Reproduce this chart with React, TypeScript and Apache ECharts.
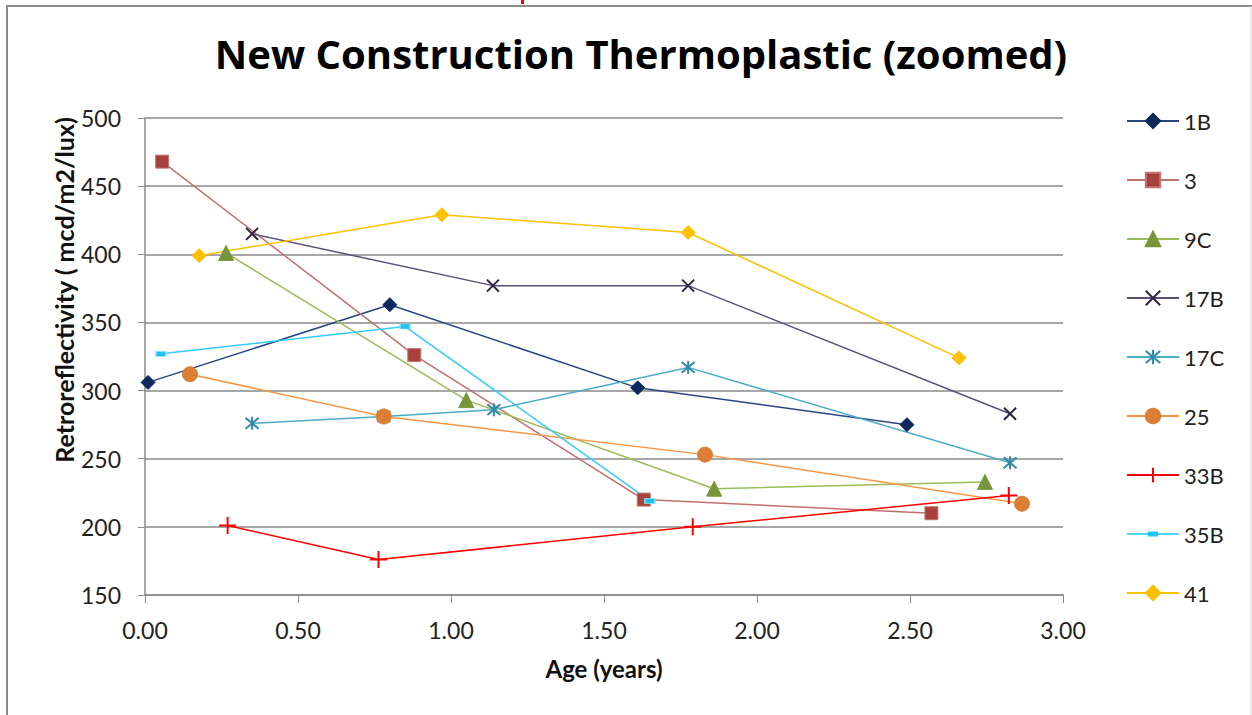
import React, { useEffect, useRef } from "react";
import * as echarts from "echarts";

// Age (years) / retroreflectivity (mcd/m2/lux) readings for each site
const s1B: [number, number][] = [[0.01, 306], [0.80, 363], [1.61, 302], [2.49, 275]];
const s3: [number, number][] = [[0.056, 468], [0.88, 326], [1.63, 220], [2.57, 210]];
const s9C: [number, number][] = [[0.265, 401], [1.05, 293], [1.86, 228], [2.745, 233]];
const s17B: [number, number][] = [[0.35, 415], [1.137, 377], [1.775, 377], [2.827, 283]];
const s17C: [number, number][] = [[0.35, 276], [0.78, 281], [1.14, 286], [1.775, 317], [2.827, 247]];
const s25: [number, number][] = [[0.147, 312], [0.78, 281], [1.83, 253], [2.866, 217]];
const s33B: [number, number][] = [[0.27, 201], [0.763, 176], [1.79, 200], [2.823, 223]];
const s35B: [number, number][] = [[0.052, 327], [0.85, 347], [1.65, 219]];
const s41: [number, number][] = [[0.177, 399], [0.97, 429], [1.775, 416], [2.66, 324]];

const FONT = "Lato, 'Open Sans', sans-serif";
const TITLE_FONT = "'Open Sans', Lato, sans-serif";

const X_MARK = "path://M0,0L10,10M10,0L0,10";
const STAR_MARK = "path://M0,0L10,10M10,0L0,10M5,-1L5,11";
const PLUS_MARK = "path://M5,0L5,10M0,5L10,5";
// legend key for the dash marker: thin line with a small bar across its middle
const DASH_KEY = "path://M0,1.8h52v1.4h-52z M21,0h10v5h-10z";

type Def = {
  name: string;
  data: [number, number][];
  line: string;
  fill: string;
  stroke?: string;
  symbol: string;
  size: number | number[];
  outline?: boolean;
};

const defs: Def[] = [
  { name: "1B", data: s1B, line: "#2A4680", fill: "#0E2A5C", symbol: "diamond", size: 14 },
  { name: "3", data: s3, line: "#C0706D", fill: "#A8403D", stroke: "#C27673", symbol: "rect", size: 13 },
  { name: "9C", data: s9C, line: "#9BBB59", fill: "#77963B", symbol: "triangle", size: 15 },
  { name: "17B", data: s17B, line: "#5C5075", fill: "#2E2442", symbol: X_MARK, size: 12, outline: true },
  { name: "17C", data: s17C, line: "#4BACC6", fill: "#2E8CA5", symbol: STAR_MARK, size: 13, outline: true },
  { name: "25", data: s25, line: "#F79646", fill: "#DC7F34", symbol: "circle", size: 15 },
  { name: "33B", data: s33B, line: "#FF0000", fill: "#FF0000", symbol: PLUS_MARK, size: 17, outline: true },
  { name: "35B", data: s35B, line: "#33CCFF", fill: "#22C2F0", stroke: "#8FE3FF", symbol: "rect", size: [10, 5] },
  { name: "41", data: s41, line: "#FFC000", fill: "#FFC000", symbol: "diamond", size: 14 },
];

export default function App() {
  const ref = useRef<HTMLDivElement>(null);

  useEffect(() => {
    if (!ref.current) return;
    const chart = echarts.init(ref.current, undefined, { renderer: "svg" });

    const series = defs.map((d) => ({
      name: d.name,
      type: "line",
      data: d.data,
      symbol: d.symbol,
      symbolSize: d.size,
      showAllSymbol: true,
      lineStyle: { color: d.line, width: 1.5 },
      itemStyle: d.outline
        ? { color: "rgba(0,0,0,0)", borderColor: d.fill, borderWidth: 2 }
        : { color: d.fill, borderColor: d.stroke ?? d.fill, borderWidth: 1 },
      emphasis: { disabled: true },
      z: 3,
    }));

    const legendData = defs.map((d) =>
      d.name === "35B"
        ? { name: d.name, icon: DASH_KEY, itemStyle: { color: d.fill, borderWidth: 0 } }
        : { name: d.name }
    );

    chart.setOption({
      animation: false,
      backgroundColor: "#ffffff",
      title: {
        text: "New Construction Thermoplastic (zoomed)",
        left: 636,
        textAlign: "center",
        top: 25,
        textStyle: {
          fontFamily: TITLE_FONT,
          fontWeight: "bold",
          fontSize: 40,
          lineHeight: 46,
          color: "#000",
        },
      },
      grid: { left: 145, right: 189, top: 118, bottom: 120 },
      legend: {
        orient: "vertical",
        left: 1121,
        top: 105,
        itemWidth: 52,
        itemHeight: 18,
        itemGap: 37,
        selectedMode: false,
        textStyle: { fontFamily: FONT, fontSize: 22, color: "#222" },
        data: legendData,
      },
      xAxis: {
        type: "value",
        min: 0,
        max: 3,
        interval: 0.5,
        axisLine: { show: true, onZero: false, lineStyle: { color: "#8a8a8a", width: 1.5 } },
        axisTick: { show: true, length: 8, lineStyle: { color: "#8a8a8a" } },
        splitLine: { show: false },
        axisLabel: {
          formatter: (v: number) => v.toFixed(2),
          fontFamily: FONT,
          fontSize: 23,
          color: "#222",
          margin: 23,
        },
        name: "Age (years)",
        nameLocation: "middle",
        nameGap: 61,
        nameTextStyle: { fontFamily: FONT, fontWeight: "bold", fontSize: 24, color: "#111" },
      },
      yAxis: {
        type: "value",
        min: 150,
        max: 500,
        interval: 50,
        axisLine: { show: true, onZero: false, lineStyle: { color: "#8a8a8a", width: 1.5 } },
        axisTick: { show: true, length: 7, lineStyle: { color: "#8a8a8a" } },
        splitLine: { show: true, lineStyle: { color: "#8a8a8a", width: 1.5 } },
        axisLabel: { fontFamily: FONT, fontSize: 23, color: "#222", margin: 24 },
      },
      graphic: [
        { type: "line", shape: { x1: 7, y1: 6, x2: 7, y2: 715 }, style: { stroke: "#8c8c8c", lineWidth: 2 } },
        { type: "line", shape: { x1: 6, y1: 6, x2: 1252, y2: 6 }, style: { stroke: "#8c8c8c", lineWidth: 2 } },
        { type: "line", shape: { x1: 1251, y1: 6, x2: 1251, y2: 715 }, style: { stroke: "#d4d4d4", lineWidth: 1 } },
        { type: "rect", shape: { x: 521, y: 0, width: 3, height: 4 }, style: { fill: "#ff0000" } },
        {
          type: "text",
          x: 64,
          y: 290,
          rotation: Math.PI / 2,
          style: {
            text: "Retroreflectivity ( mcd/m2/lux)",
            fontFamily: FONT,
            fontWeight: "bold",
            fontSize: 25,
            fill: "#111",
            align: "center",
            verticalAlign: "middle",
          },
        },
      ],
      series,
    });

    return () => chart.dispose();
  }, []);

  return (
    <div
      ref={ref}
      style={{ position: "fixed", left: 0, top: 0, width: 1252, height: 715 }}
    />
  );
}
